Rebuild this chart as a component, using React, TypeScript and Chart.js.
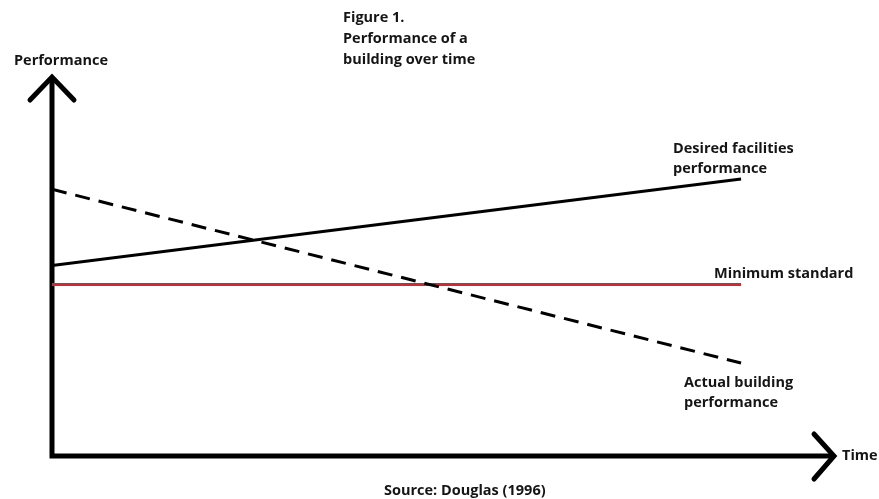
import React, { useEffect, useRef } from "react";
import { Chart, registerables } from "chart.js";

Chart.register(...registerables);

// Time positions (start / end of the sketched lines)
const timePoints = [0, 88];
// Series values (performance, arbitrary units 0–100)
const desiredPerformance = [50, 72.7];
const actualPerformance = [70, 24.4];
const minimumStandard = [45, 45];

// Text labels
const titleLines = ["Figure 1.", "Performance of a", "building over time"];
const yAxisLabel = "Performance";
const xAxisLabel = "Time";
const desiredLabel = ["Desired facilities", "performance"];
const minimumLabel = ["Minimum standard"];
const actualLabel = ["Actual building", "performance"];
const sourceLabel = "Source: Douglas (1996)";

const FONT = "bold 14.5px 'Open Sans'";
const TEXT_COLOR = "#151515";

const toPoints = (ys: number[]) => timePoints.map((x, i) => ({ x, y: ys[i] }));

const sketchPlugin = {
  id: "sketch",
  beforeDatasetsDraw(chart: any) {
    const { ctx, chartArea } = chart;
    const { left, right, top, bottom } = chartArea;
    ctx.save();
    ctx.strokeStyle = "#000";
    ctx.lineWidth = 5;
    ctx.lineJoin = "miter";
    ctx.lineCap = "butt";
    ctx.beginPath();
    ctx.moveTo(left, top + 3);
    ctx.lineTo(left, bottom);
    ctx.lineTo(right - 3, bottom);
    ctx.stroke();
    ctx.lineCap = "round";
    ctx.lineJoin = "miter";
    // y arrow head
    ctx.beginPath();
    ctx.moveTo(left - 22, top + 25);
    ctx.lineTo(left, top + 2);
    ctx.lineTo(left + 22, top + 25);
    ctx.stroke();
    // x arrow head
    ctx.beginPath();
    ctx.moveTo(right - 21, bottom - 22);
    ctx.lineTo(right - 1, bottom);
    ctx.lineTo(right - 21, bottom + 23);
    ctx.stroke();
    ctx.restore();
  },
  afterDraw(chart: any) {
    const { ctx, chartArea, scales } = chart;
    const ys = scales.y;
    const endX = scales.x.getPixelForValue(timePoints[timePoints.length - 1]);
    ctx.save();
    ctx.font = FONT;
    ctx.fillStyle = TEXT_COLOR;
    ctx.textAlign = "left";
    ctx.textBaseline = "alphabetic";
    const lines = (arr: string[], x: number, y: number, gap: number) =>
      arr.forEach((t, i) => ctx.fillText(t, x, y + i * gap));
    // title
    lines(titleLines, 343, 22, 21);
    // axis labels
    ctx.fillText(yAxisLabel, 14, 65);
    ctx.fillText(xAxisLabel, chartArea.right + 7, chartArea.bottom + 4);
    // series labels anchored to line ends
    lines(desiredLabel, endX - 68, ys.getPixelForValue(desiredPerformance[1]) - 26, 20);
    lines(minimumLabel, endX - 27, ys.getPixelForValue(minimumStandard[1]) - 7, 20);
    lines(actualLabel, endX - 57, ys.getPixelForValue(actualPerformance[1]) + 24, 20);
    // source
    ctx.fillText(sourceLabel, 384, 495);
    ctx.restore();
  },
};

export default function App() {
  const ref = useRef<HTMLCanvasElement | null>(null);
  useEffect(() => {
    document.body.style.margin = "0";
    if (!ref.current) return;
    const chart = new Chart(ref.current, {
      type: "line",
      data: {
        datasets: [
          {
            label: "Desired facilities performance",
            data: toPoints(desiredPerformance),
            borderColor: "#000",
            borderWidth: 3,
            pointRadius: 0,
          },
          {
            label: "Actual building performance",
            data: toPoints(actualPerformance),
            borderColor: "#000",
            borderWidth: 3,
            borderDash: [15, 9],
            pointRadius: 0,
          },
          {
            label: "Minimum standard",
            data: toPoints(minimumStandard),
            borderColor: "#cc2b36",
            borderWidth: 3,
            pointRadius: 0,
          },
        ],
      },
      options: {
        animation: false,
        responsive: false,
        devicePixelRatio: 1,
        layout: { padding: { left: 52, right: 44, top: 75, bottom: 43 } },
        plugins: { legend: { display: false }, tooltip: { enabled: false } },
        scales: {
          x: { type: "linear", min: 0, max: 100, display: false },
          y: { type: "linear", min: 0, max: 100, display: false },
        },
      },
      plugins: [sketchPlugin],
    });
    return () => chart.destroy();
  }, []);
  return (
    <div style={{ width: 879, height: 499, background: "#fff" }}>
      <canvas ref={ref} width={879} height={499} />
    </div>
  );
}
